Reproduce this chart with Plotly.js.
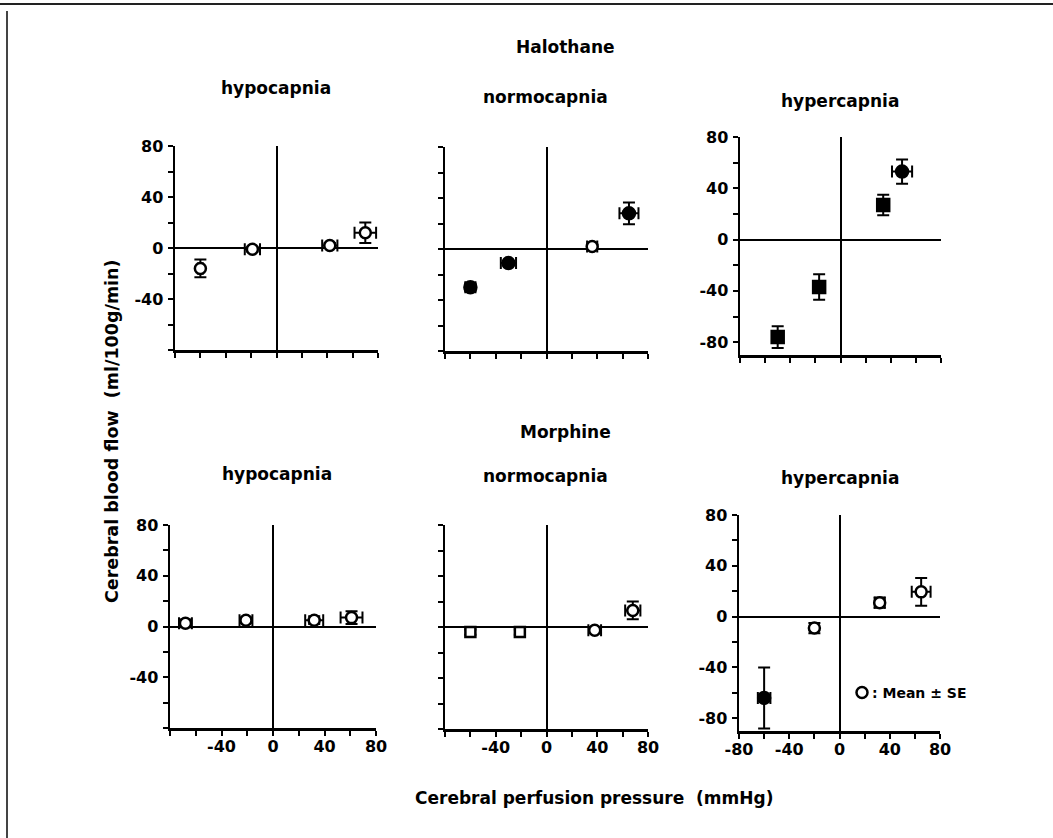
<!DOCTYPE html>
<html><head><meta charset="utf-8">
<script src="https://cdn.plot.ly/plotly-3.0.1.min.js"></script>
<style>html,body{margin:0;padding:0;background:#fff}#chart{width:1053px;height:838px}</style>
</head><body><div id="chart"></div>
<script>
// ---------- DATA ----------
// Halothane, hypocapnia
const halHypoX    = [-60, -19, 42, 70];
const halHypoY    = [-16, -1, 2, 12];
const halHypoXErr = [2, 6, 6, 8.5];
const halHypoYErr = [7, 2, 2, 8];
const halHypoKind = ['open', 'open', 'open', 'open'];
// Halothane, normocapnia
const halNormoX    = [-60, -30, 36, 65];
const halNormoY    = [-30, -11, 2, 28];
const halNormoXErr = [4, 6, 4, 7.5];
const halNormoYErr = [3, 1.5, 1.5, 8.5];
const halNormoKind = ['filled', 'filled', 'open', 'filled'];
// Halothane, hypercapnia
const halHyperX    = [-50, -17, 34, 49];
const halHyperY    = [-76, -37, 27, 53];
const halHyperXErr = [0, 0, 0, 8];
const halHyperYErr = [8.5, 10, 8, 9.5];
const halHyperKind = ['square', 'square', 'square', 'filled'];
// Morphine, hypocapnia
const morHypoX    = [-68, -21, 32, 61];
const morHypoY    = [2.5, 5, 5, 7];
const morHypoXErr = [5, 5, 7, 8.5];
const morHypoYErr = [3, 2, 3, 5];
const morHypoKind = ['open', 'open', 'open', 'open'];
// Morphine, normocapnia
const morNormoX    = [-60, -21, 38, 68];
const morNormoY    = [-4, -4, -2.5, 13];
const morNormoXErr = [3, 3, 5, 6];
const morNormoYErr = [2, 2, 2, 7];
const morNormoKind = ['opensquare', 'opensquare', 'open', 'open'];
// Morphine, hypercapnia
const morHyperX    = [-60, -20, 32, 65];
const morHyperY    = [-64, -9, 11, 19.5];
const morHyperXErr = [5, 3, 4, 7.5];
const morHyperYErr = [24, 4, 4, 11];
const morHyperKind = ['filled', 'open', 'open', 'open'];

// Tick values / labels
const tickVals = [-80, -60, -40, -20, 0, 20, 40, 60, 80];
const yLabelsA = ['', '', '-40', '', '0', '', '40', '', '80'];
const yLabelsB = ['-80', '', '-40', '', '0', '', '40', '', '80'];
const xLabelsA = ['', '', '-40', '', '0', '', '40', '', '80'];
const xLabelsB = ['-80', '', '-40', '', '0', '', '40', '', '80'];
const noLabels = ['', '', '', '', '', '', '', '', ''];

const sectionTitles = ['Halothane', 'Morphine'];
const panelTitles = ['hypocapnia', 'normocapnia', 'hypercapnia'];
const xTitle = 'Cerebral perfusion pressure  (mmHg)';
const yTitle = 'Cerebral blood flow  (ml/100g/min)';
const legendText = ': Mean ± SE';

// ---------- LAYOUT HELPERS ----------
const W = 1053, H = 838;
const px = v => v / W;
const py = v => 1 - v / H;
const FONT = 'DejaVu Sans, Verdana, sans-serif';

const symbolFor = {open: 'circle', filled: 'circle', square: 'square', opensquare: 'square'};
const colorFor  = {open: 'white', filled: 'black', square: 'black', opensquare: 'white'};
const sizeFor   = {open: 11, filled: 12, square: 12, opensquare: 10};

const panels = [
  {x: halHypoX, y: halHypoY, xe: halHypoXErr, ye: halHypoYErr, k: halHypoKind,
   dx: [175, 378], dy: [146, 350], yr: [-80, 80], yl: yLabelsA, xl: noLabels},
  {x: halNormoX, y: halNormoY, xe: halNormoXErr, ye: halNormoYErr, k: halNormoKind,
   dx: [445, 648], dy: [147, 351], yr: [-80, 80], yl: noLabels, xl: noLabels},
  {x: halHyperX, y: halHyperY, xe: halHyperXErr, ye: halHyperYErr, k: halHyperKind,
   dx: [740, 941], dy: [137, 355], yr: [-90, 80], yl: yLabelsB, xl: noLabels},
  {x: morHypoX, y: morHypoY, xe: morHypoXErr, ye: morHypoYErr, k: morHypoKind,
   dx: [170, 376], dy: [525, 728], yr: [-80, 80], yl: yLabelsA, xl: xLabelsA},
  {x: morNormoX, y: morNormoY, xe: morNormoXErr, ye: morNormoYErr, k: morNormoKind,
   dx: [445, 648], dy: [525, 729], yr: [-80, 80], yl: noLabels, xl: xLabelsA},
  {x: morHyperX, y: morHyperY, xe: morHyperXErr, ye: morHyperYErr, k: morHyperKind,
   dx: [739, 940], dy: [515, 731], yr: [-90, 80], yl: yLabelsB, xl: xLabelsB}
];

const data = [];
const layout = {
  width: W, height: H,
  margin: {l: 0, r: 0, t: 0, b: 0},
  paper_bgcolor: 'white', plot_bgcolor: 'white',
  font: {family: FONT, color: 'black'},
  showlegend: true,
  legend: {x: px(842), y: py(693), xanchor: 'left', yanchor: 'middle',
           bgcolor: 'rgba(0,0,0,0)', borderwidth: 0, itemwidth: 30,
           font: {family: FONT, size: 14, weight: 700, color: 'black'}},
  annotations: [], shapes: []
};

panels.forEach((p, i) => {
  const n = i + 1;
  const xa = 'x' + (n === 1 ? '' : n), ya = 'y' + (n === 1 ? '' : n);
  data.push({
    type: 'scatter', mode: 'markers', xaxis: xa, yaxis: ya, showlegend: false,
    x: p.x, y: p.y,
    error_y: {type: 'data', array: p.ye, visible: true, color: 'black', thickness: 2, width: 6},
    error_x: {type: 'data', array: p.xe, visible: true, color: 'black', thickness: 2, width: 6},
    marker: {symbol: p.k.map(k => symbolFor[k]), color: p.k.map(k => colorFor[k]),
             size: p.k.map(k => sizeFor[k]), sizemode: 'diameter', opacity: 1,
             line: {color: 'black', width: 2.5}},
    hoverinfo: 'x+y'
  });
  const axCommon = {
    showgrid: false, zeroline: true, zerolinecolor: 'black', zerolinewidth: 2,
    showline: true, linecolor: 'black', linewidth: 2.5,
    ticks: 'outside', ticklen: 5, tickwidth: 2, tickcolor: 'black',
    tickmode: 'array', tickvals: tickVals,
    tickfont: {family: FONT, size: 16, weight: 700, color: 'black'},
    fixedrange: true
  };
  layout['xaxis' + (n === 1 ? '' : n)] = Object.assign({}, axCommon, {
    domain: [px(p.dx[0]), px(p.dx[1])], range: [-80, 80], anchor: ya,
    ticktext: p.xl, ticklabelstandoff: -3
  });
  layout['yaxis' + (n === 1 ? '' : n)] = Object.assign({}, axCommon, {
    domain: [py(p.dy[1]), py(p.dy[0])], range: p.yr, anchor: xa,
    ticktext: p.yl, ticklabelstandoff: 1
  });
});

// legend key (Mean ± SE) in the last panel
data.push({
  type: 'scatter', mode: 'markers', xaxis: 'x6', yaxis: 'y6',
  x: [null], y: [null], name: ' ', showlegend: true,
  marker: {symbol: 'circle', color: 'white', size: 11, line: {color: 'black', width: 2.5}}
});

const ann = (text, x, y, size, extra) => Object.assign({
  text: text, xref: 'paper', yref: 'paper', x: px(x), y: py(y),
  xanchor: 'center', yanchor: 'middle', showarrow: false,
  font: {family: FONT, size: size, weight: 700, color: 'black'}
}, extra || {});

layout.annotations.push(ann(sectionTitles[0], 565, 47, 17));
layout.annotations.push(ann(sectionTitles[1], 565, 432, 17));
layout.annotations.push(ann(panelTitles[0], 276, 88, 17));
layout.annotations.push(ann(panelTitles[1], 545, 97, 17));
layout.annotations.push(ann(panelTitles[2], 840, 101, 17));
layout.annotations.push(ann(panelTitles[0], 277, 474, 17));
layout.annotations.push(ann(panelTitles[1], 545, 476, 17));
layout.annotations.push(ann(panelTitles[2], 840, 478, 17));
layout.annotations.push(ann(xTitle, 413, 798, 17, {xanchor: 'left'}));
layout.annotations.push(ann(yTitle, 112, 431, 17.5, {textangle: -90}));
layout.annotations.push(ann(legendText, 870, 693, 14, {xanchor: 'left'}));

// frame lines of the original figure
layout.shapes.push({type: 'line', xref: 'paper', yref: 'paper', x0: 0, x1: 1, y0: py(4), y1: py(4),
                    line: {color: '#222', width: 2}});
layout.shapes.push({type: 'line', xref: 'paper', yref: 'paper', x0: px(7), x1: px(7), y0: py(11), y1: 0,
                    line: {color: '#444', width: 2}});

Plotly.newPlot('chart', data, layout, {displayModeBar: false, staticPlot: true});
</script></body></html>
